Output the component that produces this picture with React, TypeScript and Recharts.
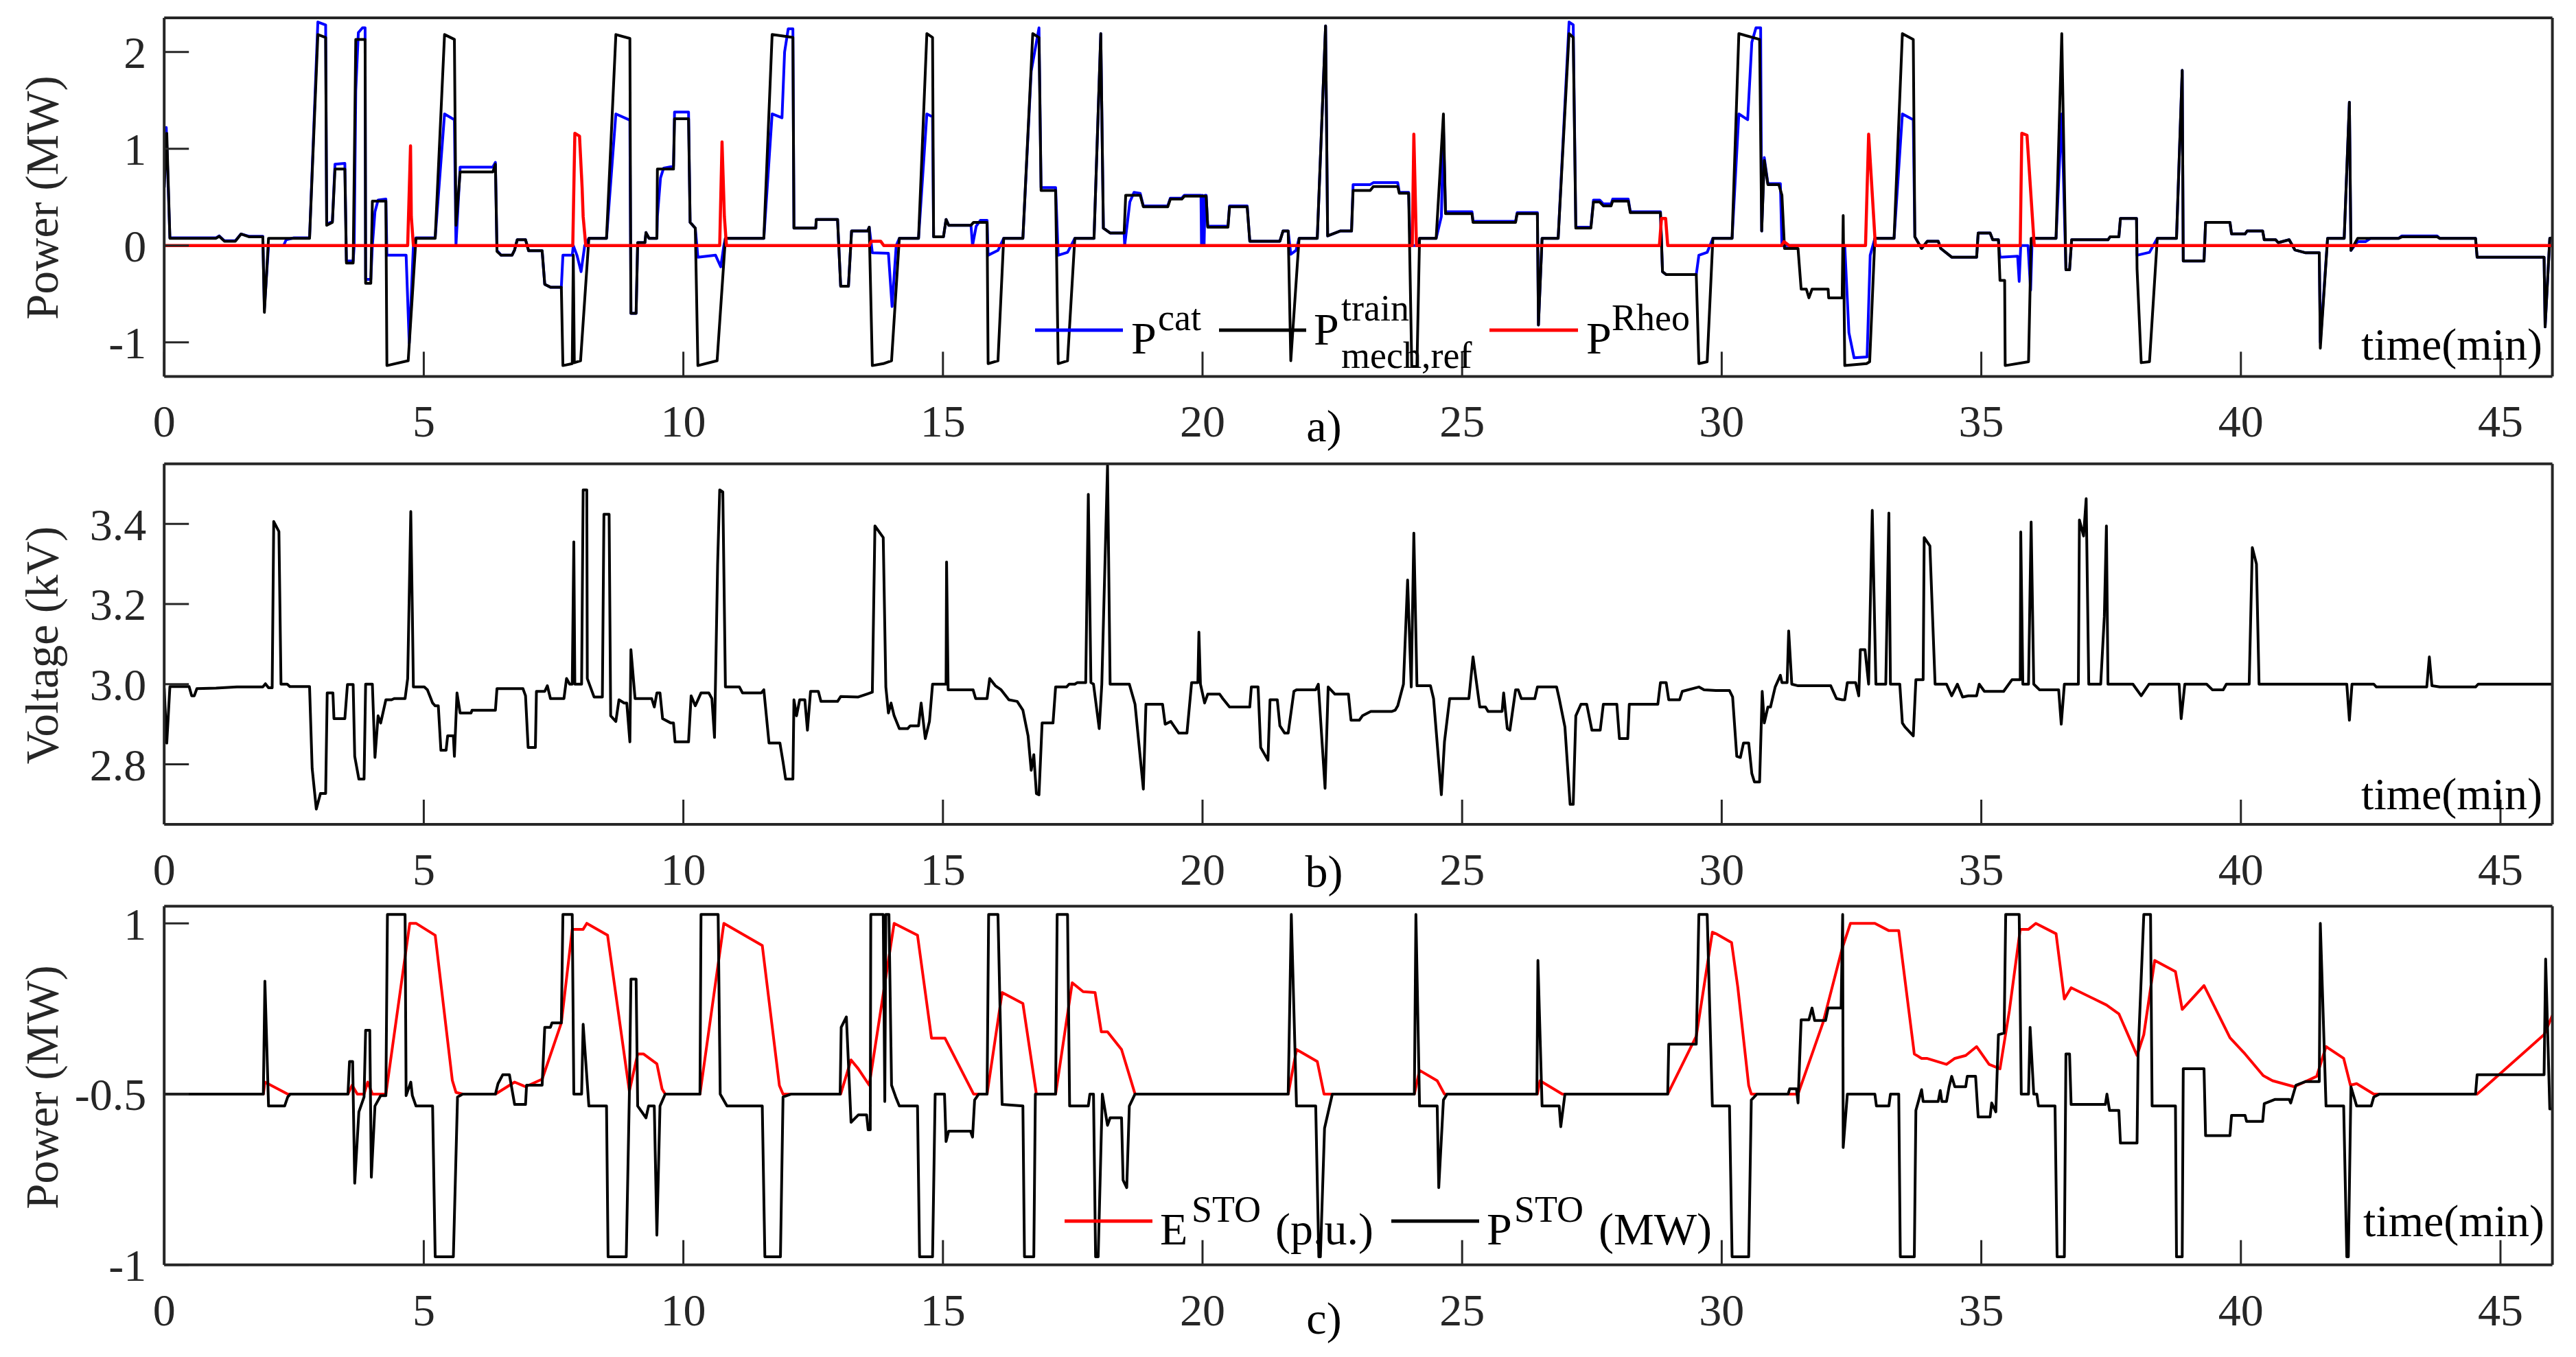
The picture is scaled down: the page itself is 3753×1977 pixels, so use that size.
import React from 'react';
import { LineChart, Line, XAxis, YAxis } from 'recharts';

const W = 3753;
const H = 1977;
const FONT = '"Liberation Serif", "Times New Roman", Times, serif';
const AX = '#262626';
const PLOT_L = 239.2;
const PLOT_R = 3718.6;

// ---------- axis ticks ----------
const timeTicks = [0, 5, 10, 15, 20, 25, 30, 35, 40, 45];
const timeTickLabels = ['0', '5', '10', '15', '20', '25', '30', '35', '40', '45'];
const aTicks = [-1, 0, 1, 2];
const aTickLabels = ['-1', '0', '1', '2'];
const bTicks = [2.8, 3.0, 3.2, 3.4];
const bTickLabels = ['2.8', '3.0', '3.2', '3.4'];
const cTicks = [-1, 0, 1];
const cTickLabels = ['-1', '-0.5', '1'];

// ---------- panel a) : P^train_mech,ref (black) [time(min), MW] ----------
const trainPts = [
  [0,0.6],[0.05,1.16],[0.11,0.075],[1.0,0.075],[1.06,0.096],[1.16,0.045],[1.37,0.045],[1.48,0.119],[1.64,0.09],[1.9,0.09],[1.93,-0.69],[2.01,0.075],[2.8,0.075],[2.96,2.18],[3.11,2.15],[3.13,0.21],[3.24,0.24],[3.29,0.79],[3.48,0.79],[3.51,-0.18],[3.64,-0.18],[3.69,2.13],[3.87,2.13],[3.88,-0.39],[3.98,-0.39],[4.01,0.46],[4.27,0.46],[4.29,-1.24],[4.7,-1.19],[4.85,0.075],[5.22,0.075],[5.4,2.18],[5.59,2.13],[5.62,0.21],[5.7,0.76],[6.33,0.76],[6.38,0.84],[6.41,-0.06],[6.49,-0.1],[6.7,-0.1],[6.75,-0.045],[6.8,0.06],[6.96,0.06],[7.02,-0.054],[7.28,-0.054],[7.33,-0.4],[7.44,-0.43],[7.65,-0.43],[7.68,-1.24],[7.86,-1.22],[7.88,-0.1],[7.9,-1.21],[8.02,-1.19],[8.18,0.075],[8.52,0.075],[8.7,2.18],[8.97,2.14],[8.99,-0.7],[9.09,-0.7],[9.12,0.03],[9.26,0.03],[9.28,0.134],[9.34,0.075],[9.49,0.075],[9.5,0.79],[9.81,0.79],[9.83,1.31],[10.1,1.31],[10.13,0.24],[10.23,0.18],[10.28,-1.24],[10.65,-1.19],[10.81,0.075],[11.55,0.075],[11.71,2.18],[12.11,2.15],[12.13,0.18],[12.55,0.18],[12.56,0.27],[12.97,0.27],[13.03,-0.42],[13.18,-0.42],[13.24,0.15],[13.55,0.15],[13.58,0.19],[13.64,-1.24],[13.85,-1.22],[14.01,-1.19],[14.16,0.075],[14.53,0.075],[14.69,2.19],[14.8,2.15],[14.82,0.09],[15.01,0.09],[15.06,0.27],[15.11,0.21],[15.54,0.21],[15.59,0.24],[15.85,0.24],[15.87,-1.22],[16.06,-1.19],[16.17,0.075],[16.54,0.075],[16.73,2.19],[16.85,2.15],[16.89,0.57],[17.17,0.57],[17.22,-1.22],[17.4,-1.19],[17.54,0.075],[17.91,0.075],[18.04,2.19],[18.09,0.18],[18.22,0.13],[18.49,0.13],[18.52,0.52],[18.8,0.52],[18.86,0.4],[19.33,0.4],[19.38,0.48],[19.6,0.48],[19.65,0.51],[20.07,0.51],[20.1,0.19],[20.49,0.19],[20.52,0.4],[20.86,0.4],[20.91,0.045],[21.49,0.045],[21.55,0.15],[21.65,0.15],[21.7,-1.19],[21.86,0.075],[22.21,0.075],[22.37,2.27],[22.41,0.1],[22.65,0.15],[22.87,0.15],[22.9,0.57],[23.23,0.57],[23.29,0.61],[23.76,0.61],[23.79,0.54],[23.97,0.54],[24.03,-1.25],[24.13,-1.25],[24.18,0.075],[24.5,0.075],[24.64,1.36],[24.68,0.33],[25.19,0.33],[25.21,0.24],[26.03,0.24],[26.06,0.33],[26.45,0.33],[26.47,-0.82],[26.54,0.075],[26.85,0.075],[27.06,2.19],[27.14,2.15],[27.19,0.18],[27.48,0.18],[27.53,0.45],[27.65,0.45],[27.72,0.41],[27.87,0.41],[27.9,0.46],[28.2,0.46],[28.24,0.34],[28.82,0.34],[28.86,-0.27],[28.93,-0.3],[29.51,-0.3],[29.56,-1.22],[29.72,-1.2],[29.83,0.075],[30.2,0.075],[30.33,2.19],[30.73,2.13],[30.77,0.15],[30.82,0.88],[30.89,0.63],[31.1,0.63],[31.16,0.52],[31.21,-0.03],[31.47,-0.03],[31.53,-0.45],[31.63,-0.45],[31.68,-0.54],[31.74,-0.45],[32.05,-0.45],[32.06,-0.54],[32.32,-0.54],[32.34,0.31],[32.37,-1.24],[32.79,-1.22],[32.85,-1.2],[32.95,0.075],[33.32,0.075],[33.48,2.19],[33.69,2.13],[33.72,0.09],[33.85,-0.03],[33.96,0.045],[34.17,0.045],[34.22,-0.03],[34.43,-0.12],[34.91,-0.12],[34.94,0.13],[35.17,0.13],[35.22,0.06],[35.33,0.06],[35.36,-0.36],[35.45,-0.36],[35.46,-1.24],[35.91,-1.2],[35.96,0.075],[36.44,0.075],[36.55,2.19],[36.63,-0.25],[36.7,-0.25],[36.74,0.06],[37.44,0.06],[37.48,0.09],[37.65,0.09],[37.68,0.28],[37.99,0.28],[38.0,-0.24],[38.08,-1.21],[38.24,-1.2],[38.39,0.075],[38.76,0.075],[38.87,1.81],[38.89,-0.16],[39.29,-0.16],[39.32,0.24],[39.79,0.24],[39.82,0.12],[40.08,0.12],[40.12,0.15],[40.42,0.15],[40.45,0.06],[40.67,0.06],[40.72,0.03],[40.93,0.06],[41.04,-0.045],[41.25,-0.075],[41.51,-0.075],[41.53,-1.06],[41.67,0.075],[41.99,0.075],[42.09,1.48],[42.12,-0.05],[42.25,0.075],[43.04,0.075],[43.1,0.09],[43.78,0.09],[43.83,0.075],[44.52,0.075],[44.55,-0.12],[45.84,-0.12],[45.86,-0.84],[45.95,0.075],[46,0.08]
];

// ---------- panel a) : P^cat (blue) ----------
const catPts = [
  [0,0.6],[0.04,1.22],[0.11,0.08],[1.0,0.08],[1.06,0.1],[1.16,0.05],[1.37,0.05],[1.48,0.12],[1.64,0.095],[1.9,0.095],[1.93,-0.65],[2.01,0.0],[2.3,0.0],[2.35,0.06],[2.5,0.08],[2.8,0.08],[2.96,2.31],[3.11,2.28],[3.13,0.22],[3.24,0.25],[3.29,0.84],[3.48,0.85],[3.51,-0.16],[3.64,-0.16],[3.66,0.0],[3.69,1.6],[3.74,2.2],[3.82,2.25],[3.87,2.25],[3.88,-0.35],[3.98,-0.35],[4.01,0.0],[4.06,0.35],[4.12,0.47],[4.27,0.48],[4.29,-0.1],[4.66,-0.1],[4.72,-1.01],[4.8,0.0],[4.85,0.08],[5.22,0.08],[5.4,1.36],[5.59,1.3],[5.62,0.0],[5.7,0.81],[6.33,0.81],[6.38,0.86],[6.41,-0.05],[6.49,-0.1],[6.7,-0.1],[6.75,-0.045],[6.8,0.06],[6.96,0.06],[7.02,-0.054],[7.28,-0.054],[7.33,-0.4],[7.44,-0.43],[7.65,-0.43],[7.68,-0.1],[7.86,-0.1],[7.88,0.0],[7.95,-0.1],[8.03,-0.27],[8.1,0.0],[8.18,0.075],[8.52,0.075],[8.7,1.36],[8.95,1.3],[8.97,1.3],[8.99,-0.7],[9.09,-0.7],[9.12,0.03],[9.26,0.03],[9.28,0.134],[9.34,0.075],[9.49,0.075],[9.5,0.3],[9.56,0.7],[9.62,0.8],[9.81,0.82],[9.83,1.38],[10.1,1.38],[10.13,0.24],[10.23,0.18],[10.28,-0.12],[10.62,-0.1],[10.72,-0.22],[10.78,0.0],[10.81,0.075],[11.55,0.075],[11.71,1.36],[11.9,1.32],[11.95,2.0],[12.02,2.24],[12.11,2.24],[12.13,0.18],[12.55,0.18],[12.56,0.27],[12.97,0.27],[13.03,-0.42],[13.18,-0.42],[13.24,0.15],[13.55,0.15],[13.58,0.19],[13.64,-0.075],[13.95,-0.08],[14.02,-0.63],[14.1,0.0],[14.16,0.075],[14.53,0.075],[14.69,1.36],[14.8,1.33],[14.82,0.09],[15.01,0.09],[15.06,0.27],[15.11,0.21],[15.54,0.21],[15.57,0.0],[15.64,0.2],[15.72,0.26],[15.85,0.26],[15.87,-0.1],[16.06,-0.05],[16.17,0.075],[16.54,0.075],[16.7,1.8],[16.85,2.25],[16.89,0.6],[17.17,0.6],[17.22,-0.1],[17.4,-0.07],[17.54,0.075],[17.91,0.075],[18.04,2.19],[18.09,0.18],[18.22,0.13],[18.49,0.13],[18.5,0.0],[18.6,0.45],[18.68,0.55],[18.8,0.54],[18.86,0.41],[19.33,0.41],[19.38,0.49],[19.6,0.49],[19.65,0.52],[19.97,0.52],[19.98,0.0],[20.0,0.52],[20.03,0.0],[20.05,0.52],[20.07,0.52],[20.1,0.2],[20.49,0.2],[20.52,0.41],[20.86,0.41],[20.91,0.045],[21.49,0.045],[21.55,0.15],[21.65,0.15],[21.7,-0.09],[21.8,-0.05],[21.86,0.075],[22.21,0.075],[22.37,2.27],[22.41,0.1],[22.65,0.15],[22.87,0.15],[22.9,0.63],[23.23,0.63],[23.29,0.65],[23.76,0.65],[23.79,0.55],[23.97,0.55],[24.0,0.0],[24.15,0.0],[24.18,0.075],[24.5,0.075],[24.6,0.3],[24.64,1.2],[24.68,0.35],[25.19,0.35],[25.21,0.25],[26.03,0.25],[26.06,0.34],[26.45,0.34],[26.47,-0.82],[26.54,0.075],[26.85,0.075],[27.06,2.31],[27.14,2.28],[27.19,0.19],[27.48,0.19],[27.53,0.47],[27.65,0.47],[27.72,0.43],[27.87,0.43],[27.9,0.48],[28.2,0.48],[28.24,0.35],[28.82,0.35],[28.86,-0.27],[28.93,-0.3],[29.51,-0.3],[29.56,-0.1],[29.72,-0.07],[29.83,0.075],[30.2,0.075],[30.33,1.36],[30.5,1.3],[30.58,2.1],[30.66,2.25],[30.75,2.25],[30.77,0.15],[30.82,0.91],[30.89,0.64],[31.13,0.64],[31.16,0.0],[32.37,0.0],[32.45,-0.9],[32.55,-1.16],[32.8,-1.15],[32.86,-0.1],[32.95,0.075],[33.32,0.075],[33.48,1.36],[33.69,1.3],[33.72,0.09],[33.85,-0.03],[33.96,0.045],[34.17,0.045],[34.22,-0.03],[34.43,-0.12],[34.91,-0.12],[34.94,0.13],[35.17,0.13],[35.22,0.06],[35.33,0.06],[35.36,-0.12],[35.7,-0.11],[35.73,-0.37],[35.76,0.0],[35.9,0.0],[35.95,-0.46],[35.98,0.075],[36.44,0.075],[36.55,1.36],[36.63,-0.25],[36.7,-0.25],[36.74,0.06],[37.44,0.06],[37.48,0.09],[37.65,0.09],[37.68,0.28],[37.99,0.28],[38.0,-0.1],[38.24,-0.07],[38.39,0.075],[38.76,0.075],[38.87,1.81],[38.89,-0.16],[39.29,-0.16],[39.32,0.24],[39.79,0.24],[39.82,0.12],[40.08,0.12],[40.12,0.15],[40.42,0.15],[40.45,0.06],[40.67,0.06],[40.72,0.03],[40.93,0.06],[41.04,-0.045],[41.25,-0.075],[41.51,-0.075],[41.53,-1.0],[41.67,0.075],[41.99,0.075],[42.09,1.48],[42.12,-0.05],[42.25,0.04],[42.4,0.04],[42.5,0.075],[43.04,0.075],[43.1,0.1],[43.78,0.1],[43.83,0.075],[44.52,0.075],[44.55,-0.12],[45.84,-0.12],[45.86,-0.84],[45.95,0.075],[46,0.08]
];

// ---------- panel a) : P^Rheo (red) ----------
const rheoPts = [
  [0,0],[4.69,0],[4.745,1.03],[4.76,0.3],[4.8,0],[7.87,0],[7.91,1.16],[8.0,1.13],[8.05,0.6],[8.07,0.3],[8.12,0],[10.7,0],[10.745,1.07],[10.79,0.3],[10.83,0],[13.58,0],[13.62,0.045],[13.8,0.045],[13.86,0],[24.04,0],[24.07,1.15],[24.12,0],[28.8,0],[28.84,0.28],[28.92,0.28],[28.96,0],[31.15,0],[31.2,0.04],[31.3,0],[32.77,0],[32.83,1.15],[32.96,0],[35.75,0],[35.78,1.16],[35.88,1.14],[36.02,0],[46,0]
];

// ---------- panel b) : catenary voltage (kV) ----------
const voltPts = [
  [0,2.99],[0.05,2.853],[0.11,2.994],[0.48,2.994],[0.53,2.971],[0.58,2.971],[0.63,2.989],[1.0,2.99],[1.4,2.993],[1.9,2.993],[1.95,3.001],[2.01,2.991],[2.08,2.991],[2.11,3.406],[2.21,3.381],[2.25,3.0],[2.37,3.0],[2.42,2.994],[2.8,2.994],[2.85,2.79],[2.93,2.688],[3.01,2.727],[3.11,2.727],[3.14,2.978],[3.25,2.978],[3.27,2.914],[3.48,2.914],[3.53,2.999],[3.64,2.999],[3.67,2.82],[3.75,2.763],[3.85,2.763],[3.88,3.0],[4.01,3.0],[4.06,2.817],[4.12,2.921],[4.17,2.903],[4.27,2.961],[4.38,2.961],[4.43,2.964],[4.64,2.964],[4.69,3.014],[4.75,3.431],[4.78,3.18],[4.8,2.993],[5.01,2.993],[5.07,2.986],[5.17,2.953],[5.22,2.946],[5.28,2.946],[5.33,2.835],[5.43,2.835],[5.46,2.871],[5.57,2.871],[5.59,2.82],[5.64,2.978],[5.7,2.928],[5.91,2.928],[5.93,2.935],[6.38,2.935],[6.41,2.989],[6.91,2.989],[6.96,2.971],[7.01,2.842],[7.15,2.842],[7.17,2.982],[7.33,2.982],[7.38,2.996],[7.44,2.964],[7.7,2.964],[7.75,3.014],[7.81,3.0],[7.86,3.0],[7.89,3.355],[7.91,3.0],[8.04,3.0],[8.07,3.485],[8.14,3.485],[8.15,3.014],[8.28,2.968],[8.44,2.968],[8.47,3.424],[8.57,3.424],[8.6,2.921],[8.7,2.907],[8.76,2.961],[8.86,2.953],[8.91,2.953],[8.97,2.856],[8.99,3.086],[9.07,2.964],[9.39,2.964],[9.44,2.943],[9.49,2.978],[9.55,2.978],[9.6,2.914],[9.76,2.903],[9.81,2.903],[9.84,2.856],[10.1,2.856],[10.15,2.971],[10.23,2.946],[10.34,2.978],[10.49,2.978],[10.55,2.964],[10.6,2.867],[10.66,3.3],[10.7,3.485],[10.76,3.48],[10.81,2.993],[11.08,2.993],[11.14,2.978],[11.5,2.978],[11.55,2.986],[11.65,2.853],[11.86,2.853],[11.92,2.806],[11.97,2.763],[12.11,2.763],[12.13,2.961],[12.18,2.921],[12.24,2.961],[12.34,2.961],[12.39,2.885],[12.45,2.982],[12.6,2.982],[12.65,2.957],[12.97,2.957],[13.03,2.969],[13.37,2.968],[13.53,2.975],[13.64,2.98],[13.69,3.395],[13.85,3.366],[13.9,2.993],[13.95,2.928],[14.0,2.953],[14.06,2.921],[14.16,2.889],[14.32,2.889],[14.37,2.896],[14.53,2.896],[14.58,2.953],[14.66,2.864],[14.74,2.907],[14.8,3.0],[15.06,3.0],[15.07,3.305],[15.1,2.986],[15.58,2.986],[15.63,2.964],[15.85,2.964],[15.9,3.014],[16.01,2.996],[16.12,2.986],[16.27,2.961],[16.43,2.957],[16.54,2.935],[16.64,2.871],[16.7,2.785],[16.75,2.824],[16.8,2.727],[16.85,2.724],[16.91,2.903],[17.12,2.903],[17.17,2.993],[17.38,2.993],[17.43,3.0],[17.54,3.0],[17.59,3.004],[17.75,3.004],[17.8,3.474],[17.85,3.004],[17.9,3.0],[18.01,2.889],[18.06,3.0],[18.17,3.546],[18.22,3.0],[18.59,3.0],[18.7,2.95],[18.86,2.738],[18.91,2.95],[19.23,2.95],[19.28,2.9],[19.39,2.907],[19.54,2.878],[19.7,2.878],[19.79,3.004],[19.91,3.004],[19.93,3.13],[19.96,3.0],[20.04,2.953],[20.1,2.975],[20.33,2.975],[20.39,2.964],[20.52,2.943],[20.91,2.943],[20.94,2.993],[21.07,2.993],[21.12,2.842],[21.26,2.81],[21.3,2.961],[21.44,2.961],[21.49,2.896],[21.58,2.878],[21.65,2.878],[21.76,2.982],[21.81,2.986],[22.18,2.986],[22.23,3.0],[22.36,2.74],[22.42,2.993],[22.55,2.975],[22.81,2.975],[22.86,2.91],[23.02,2.91],[23.08,2.921],[23.24,2.932],[23.65,2.932],[23.71,2.935],[23.76,2.946],[23.87,3.0],[23.95,3.26],[24.02,2.993],[24.07,3.377],[24.13,2.996],[24.39,2.996],[24.45,2.964],[24.6,2.724],[24.66,2.856],[24.76,2.964],[25.13,2.964],[25.21,3.068],[25.34,2.943],[25.45,2.943],[25.5,2.932],[25.77,2.932],[25.8,2.978],[25.87,2.889],[25.92,2.885],[26.03,2.986],[26.08,2.986],[26.14,2.964],[26.4,2.964],[26.45,2.993],[26.82,2.993],[26.87,2.964],[26.98,2.893],[27.08,2.7],[27.14,2.7],[27.19,2.921],[27.29,2.95],[27.4,2.95],[27.5,2.885],[27.66,2.885],[27.72,2.95],[27.98,2.95],[28.03,2.864],[28.19,2.864],[28.22,2.95],[28.77,2.95],[28.82,3.004],[28.93,3.004],[28.98,2.961],[29.19,2.961],[29.24,2.982],[29.56,2.993],[29.66,2.986],[29.89,2.984],[30.15,2.984],[30.21,2.968],[30.29,2.82],[30.36,2.817],[30.42,2.853],[30.52,2.853],[30.58,2.777],[30.63,2.756],[30.73,2.756],[30.78,2.982],[30.82,2.903],[30.89,2.943],[30.94,2.943],[31.03,2.993],[31.13,3.022],[31.16,3.004],[31.26,3.004],[31.29,3.133],[31.35,3.0],[31.47,2.996],[32.1,2.996],[32.21,2.964],[32.32,2.961],[32.37,2.961],[32.42,3.004],[32.58,3.004],[32.64,2.971],[32.67,3.086],[32.76,3.086],[32.83,3.0],[32.9,3.434],[32.97,3.0],[33.16,3.0],[33.22,3.427],[33.25,3.0],[33.43,3.0],[33.48,2.903],[33.53,2.893],[33.69,2.871],[33.74,3.011],[33.88,3.011],[33.9,3.366],[34.01,3.345],[34.11,3.0],[34.33,3.0],[34.43,2.971],[34.54,3.0],[34.64,2.968],[34.75,2.971],[34.91,2.971],[34.96,3.0],[35.06,2.982],[35.43,2.982],[35.59,3.011],[35.75,3.011],[35.76,3.38],[35.8,3.0],[35.91,3.0],[35.96,3.405],[36.01,3.0],[36.12,2.986],[36.49,2.986],[36.54,2.9],[36.6,3.0],[36.87,3.0],[36.89,3.41],[36.97,3.37],[37.02,3.463],[37.07,3.0],[37.3,3.0],[37.37,3.169],[37.41,3.395],[37.44,3.0],[37.92,3.0],[38.08,2.971],[38.23,3.0],[38.81,3.0],[38.85,2.914],[38.92,3.0],[39.34,3.0],[39.45,2.986],[39.66,2.986],[39.72,3.0],[40.16,3.0],[40.22,3.341],[40.3,3.3],[40.35,3.0],[42.04,3.0],[42.09,2.91],[42.14,3.0],[42.56,3.0],[42.61,2.993],[43.58,2.993],[43.63,3.068],[43.68,2.996],[43.83,2.993],[44.52,2.993],[44.57,3.0],[46,3.0]
];

// ---------- panel c) : E^STO (p.u., red) ----------
const estoPts = [
  [0,0],[1.91,0],[1.94,0.07],[2.38,0],[3.54,0],[3.62,0.052],[3.72,0],[3.85,0],[3.92,0.07],[4.01,0],[4.27,0],[4.73,1.0],[4.85,1.0],[5.22,0.93],[5.55,0.08],[5.62,0.01],[5.75,0],[6.38,0],[6.75,0.07],[6.96,0.043],[7.28,0.087],[7.65,0.417],[7.86,0.965],[8.07,0.965],[8.14,1.0],[8.54,0.93],[8.96,0.017],[9.12,0.235],[9.23,0.235],[9.49,0.177],[9.59,0.03],[9.65,0],[10.32,0],[10.78,1.0],[11.52,0.87],[11.85,0.05],[11.92,0],[13.03,0],[13.23,0.2],[13.37,0.148],[13.58,0.052],[14.06,1.0],[14.51,0.93],[14.78,0.327],[15.04,0.327],[15.59,0],[15.85,0],[16.14,0.595],[16.54,0.53],[16.8,0],[17.17,0],[17.49,0.652],[17.7,0.6],[17.93,0.595],[18.05,0.365],[18.17,0.365],[18.44,0.261],[18.7,0],[21.65,0],[21.81,0.261],[22.21,0.191],[22.34,0],[24.08,0],[24.18,0.139],[24.52,0.078],[24.66,0],[26.45,0],[26.5,0.078],[26.93,0],[28.96,0],[29.51,0.339],[29.82,0.948],[29.89,0.939],[30.19,0.887],[30.31,0.626],[30.52,0.05],[30.57,0],[31.47,0],[31.95,0.417],[32.32,0.852],[32.48,1.0],[32.95,1.0],[33.22,0.957],[33.41,0.957],[33.71,0.235],[33.85,0.209],[33.95,0.209],[34.33,0.174],[34.49,0.209],[34.7,0.226],[34.91,0.278],[35.15,0.174],[35.36,0.148],[35.54,0.487],[35.75,0.965],[35.91,0.965],[36.05,1.0],[36.44,0.939],[36.6,0.557],[36.73,0.623],[37.41,0.522],[37.65,0.47],[38.0,0.226],[38.13,0.348],[38.34,0.783],[38.74,0.717],[38.87,0.496],[39.29,0.635],[39.79,0.33],[40.08,0.235],[40.43,0.108],[40.61,0.078],[41.03,0.043],[41.46,0.104],[41.64,0.278],[41.98,0.209],[42.11,0.052],[42.23,0.061],[42.56,0],[44.55,0],[45.84,0.348],[46,0.461]
];

// ---------- panel c) : P^STO (MW, black) ----------
const pstoPts = [
  [0,0],[1.91,0],[1.94,0.661],[2.01,-0.07],[2.32,-0.07],[2.38,-0.017],[2.43,0],[3.54,0],[3.57,0.191],[3.63,0.191],[3.67,-0.522],[3.75,-0.104],[3.85,-0.017],[3.88,0.374],[3.96,0.374],[3.99,-0.487],[4.06,-0.07],[4.17,-0.009],[4.27,-0.009],[4.3,1.052],[4.64,1.052],[4.66,-0.009],[4.75,0.07],[4.78,-0.009],[4.85,-0.07],[5.17,-0.07],[5.22,-0.953],[5.57,-0.953],[5.65,-0.017],[5.75,0],[6.38,0],[6.43,0.061],[6.52,0.113],[6.65,0.113],[6.75,-0.061],[6.96,-0.061],[6.98,0.052],[7.28,0.052],[7.33,0.391],[7.44,0.391],[7.47,0.417],[7.65,0.417],[7.68,1.052],[7.86,1.052],[7.89,0],[8.04,0],[8.07,0.409],[8.18,-0.07],[8.52,-0.07],[8.55,-0.953],[8.9,-0.953],[8.96,0],[8.99,0.673],[9.09,0.673],[9.12,-0.07],[9.28,-0.139],[9.33,-0.07],[9.44,-0.07],[9.49,-0.826],[9.55,-0.07],[9.65,0],[10.32,0],[10.34,1.052],[10.67,1.052],[10.71,0],[10.84,-0.07],[11.52,-0.07],[11.57,-0.953],[11.87,-0.953],[11.92,-0.017],[12.08,0],[13.02,0],[13.04,0.391],[13.14,0.452],[13.23,-0.165],[13.37,-0.122],[13.53,-0.122],[13.56,-0.209],[13.6,-0.209],[13.61,1.052],[13.85,1.052],[13.88,-0.043],[13.9,1.052],[13.96,1.052],[14.01,0.052],[14.09,-0.017],[14.16,-0.07],[14.51,-0.07],[14.55,-0.953],[14.8,-0.953],[14.85,0],[15.03,0],[15.06,-0.278],[15.11,-0.217],[15.53,-0.217],[15.57,-0.252],[15.61,-0.035],[15.69,0],[15.85,0],[15.88,1.052],[16.06,1.052],[16.14,-0.061],[16.54,-0.07],[16.57,-0.953],[16.75,-0.953],[16.78,0],[17.17,0],[17.2,1.052],[17.4,1.052],[17.44,-0.07],[17.8,-0.07],[17.83,0],[17.9,0],[17.94,-0.953],[17.99,-0.953],[18.07,0],[18.17,-0.183],[18.22,-0.139],[18.44,-0.139],[18.47,-0.504],[18.54,-0.548],[18.59,-0.07],[18.7,0],[21.65,0],[21.71,1.052],[21.81,-0.07],[22.18,-0.07],[22.24,-0.953],[22.27,-0.953],[22.35,-0.2],[22.5,0],[24.08,0],[24.11,1.052],[24.18,-0.07],[24.52,-0.07],[24.55,-0.548],[24.64,-0.035],[24.71,0],[26.44,0],[26.46,0.783],[26.54,-0.07],[26.87,-0.07],[26.9,-0.191],[26.98,0],[28.96,0],[28.98,0.292],[29.51,0.292],[29.56,1.052],[29.72,1.052],[29.82,-0.07],[30.15,-0.07],[30.2,-0.953],[30.52,-0.953],[30.57,-0.035],[30.68,0],[31.28,0],[31.31,0.031],[31.44,0.031],[31.47,-0.052],[31.53,0.435],[31.68,0.435],[31.74,0.504],[31.79,0.431],[32.0,0.431],[32.05,0.504],[32.3,0.504],[32.33,1.052],[32.34,-0.313],[32.42,0],[32.95,0],[32.98,-0.07],[33.22,-0.07],[33.25,0],[33.41,0],[33.44,-0.953],[33.71,-0.953],[33.74,-0.096],[33.85,0.026],[33.88,-0.043],[34.17,-0.043],[34.21,0.021],[34.24,-0.043],[34.33,-0.043],[34.38,0.043],[34.43,0.104],[34.49,0.043],[34.7,0.043],[34.73,0.104],[34.89,0.104],[34.94,-0.134],[35.17,-0.134],[35.2,-0.052],[35.28,-0.104],[35.33,0.348],[35.44,0.357],[35.47,1.052],[35.73,1.052],[35.77,0],[35.91,0],[35.94,0.391],[36.01,0],[36.07,0],[36.1,-0.07],[36.42,-0.07],[36.46,-0.953],[36.6,-0.953],[36.63,0.235],[36.7,0.235],[36.73,-0.061],[37.39,-0.061],[37.42,0],[37.47,-0.096],[37.65,-0.096],[37.68,-0.287],[38.0,-0.287],[38.02,0.226],[38.13,1.052],[38.26,1.052],[38.29,-0.07],[38.74,-0.07],[38.76,-0.953],[38.87,-0.953],[38.89,0.148],[39.29,0.148],[39.32,-0.243],[39.79,-0.243],[39.82,-0.125],[40.08,-0.125],[40.11,-0.16],[40.42,-0.16],[40.45,-0.056],[40.66,-0.031],[40.93,-0.031],[40.96,-0.052],[41.06,0.052],[41.24,0.073],[41.51,0.073],[41.53,1.0],[41.64,-0.07],[41.98,-0.07],[42.04,-0.953],[42.07,-0.953],[42.12,0.043],[42.23,-0.07],[42.51,-0.07],[42.56,-0.017],[42.67,0],[44.52,0],[44.55,0.113],[45.84,0.113],[45.87,0.791],[45.95,-0.087],[46,-0.087]
];

const toData = (pts: number[][]) => pts.map(([t, v]) => ({ t, v }));

type Series = { name: string; data: { t: number; v: number }[]; color: string; width: number };

type PanelProps = {
  top: number;
  bottom: number;
  domain: [number, number];
  ticks: number[];
  labels: string[];
  series: Series[];
};

const tickStyle = { fontSize: 66, fontFamily: FONT, fill: AX };
const axisLineStyle = { stroke: AX, strokeWidth: 4 };
const tickLineStyle = { stroke: AX, strokeWidth: 3 };

// axes need a non-zero thickness to be drawn; 1px is taken from the margins
const AXT = 1;

function Panel({ top, bottom, domain, ticks, labels, series }: PanelProps) {
  return (
    <div style={{ position: 'absolute', left: 0, top: 0, width: W, height: H }}>
      <LineChart
        width={W}
        height={H}
        margin={{
          top: top - AXT,
          bottom: H - bottom - AXT,
          left: PLOT_L - AXT,
          right: W - PLOT_R - AXT,
        }}
      >
        <XAxis
          xAxisId="b"
          type="number"
          dataKey="t"
          domain={[0, 46]}
          ticks={timeTicks}
          interval={0}
          allowDataOverflow
          orientation="bottom"
          height={AXT}
          tickSize={-36}
          tickMargin={77}
          axisLine={axisLineStyle}
          tickLine={tickLineStyle}
          tick={tickStyle}
          tickFormatter={(v: number, i: number) => timeTickLabels[i] ?? String(v)}
        />
        <XAxis
          xAxisId="t"
          type="number"
          dataKey="t"
          domain={[0, 46]}
          ticks={timeTicks}
          interval={0}
          allowDataOverflow
          orientation="top"
          height={AXT}
          tickSize={-36}
          axisLine={axisLineStyle}
          tickLine={tickLineStyle}
          tick={false}
        />
        <YAxis
          yAxisId="l"
          type="number"
          domain={domain}
          ticks={ticks}
          interval={0}
          allowDataOverflow
          orientation="left"
          width={AXT}
          tickSize={-36}
          tickMargin={62}
          axisLine={axisLineStyle}
          tickLine={tickLineStyle}
          tick={tickStyle}
          tickFormatter={(v: number, i: number) => labels[i] ?? String(v)}
        />
        <YAxis
          yAxisId="r"
          type="number"
          domain={domain}
          ticks={ticks}
          interval={0}
          allowDataOverflow
          orientation="right"
          width={AXT}
          tickSize={-36}
          axisLine={axisLineStyle}
          tickLine={tickLineStyle}
          tick={false}
        />
        {series.map((s) => (
          <Line
            key={s.name}
            name={s.name}
            xAxisId="b"
            yAxisId="l"
            data={s.data}
            dataKey="v"
            type="linear"
            stroke={s.color}
            strokeWidth={s.width}
            strokeLinejoin="round"
            dot={false}
            activeDot={false}
            isAnimationActive={false}
          />
        ))}
      </LineChart>
    </div>
  );
}

function Overlay() {
  const txt = { fontFamily: FONT, fill: '#000' } as const;
  const lab = { fontFamily: FONT, fill: AX } as const;
  return (
    <svg
      width={W}
      height={H}
      style={{ position: 'absolute', left: 0, top: 0, pointerEvents: 'none' }}
    >
      {/* y labels */}
      <text {...lab} fontSize={67} textAnchor="middle" transform="translate(84,288) rotate(-90)">Power (MW)</text>
      <text {...lab} fontSize={67} textAnchor="middle" transform="translate(84,940) rotate(-90)">Voltage (kV)</text>
      <text {...lab} fontSize={67} textAnchor="middle" transform="translate(84,1584) rotate(-90)">Power (MW)</text>

      {/* panel captions */}
      <text {...txt} fontSize={66} x={1929} y={643} textAnchor="middle">a)</text>
      <text {...txt} fontSize={66} x={1929} y={1292} textAnchor="middle">b)</text>
      <text {...txt} fontSize={66} x={1929} y={1943} textAnchor="middle">c)</text>

      {/* time(min) */}
      <text {...txt} fontSize={66} x={3704} y={524} textAnchor="end">time(min)</text>
      <text {...txt} fontSize={66} x={3704} y={1179} textAnchor="end">time(min)</text>
      <text {...txt} fontSize={66} x={3707} y={1801} textAnchor="end">time(min)</text>

      {/* legend a) */}
      <line x1={1508} x2={1636} y1={481} y2={481} stroke="#0000ff" strokeWidth={5} />
      <text {...txt} fontSize={66} x={1648} y={515}>P</text>
      <text {...txt} fontSize={54} x={1687} y={481}>cat</text>
      <line x1={1776} x2={1903} y1={481} y2={481} stroke="#000" strokeWidth={5} />
      <text {...txt} fontSize={66} x={1914} y={502}>P</text>
      <text {...txt} fontSize={54} x={1954} y={467}>train</text>
      <text {...txt} fontSize={54} x={1954} y={536}>mech,ref</text>
      <line x1={2170} x2={2299} y1={481} y2={481} stroke="#ff0000" strokeWidth={5} />
      <text {...txt} fontSize={66} x={2311} y={515}>P</text>
      <text {...txt} fontSize={54} x={2348} y={481}>Rheo</text>

      {/* legend c) */}
      <line x1={1551} x2={1679} y1={1779} y2={1779} stroke="#ff0000" strokeWidth={5} />
      <text {...txt} fontSize={66} x={1690} y={1813}>E</text>
      <text {...txt} fontSize={54} x={1736} y={1780}>STO</text>
      <text {...txt} fontSize={66} x={1858} y={1813}>(p.u.)</text>
      <line x1={2027} x2={2155} y1={1779} y2={1779} stroke="#000" strokeWidth={5} />
      <text {...txt} fontSize={66} x={2166} y={1813}>P</text>
      <text {...txt} fontSize={54} x={2206} y={1780}>STO</text>
      <text {...txt} fontSize={66} x={2329} y={1813}>(MW)</text>
    </svg>
  );
}

export default function App() {
  const panelA: Series[] = [
    { name: 'Pcat', data: toData(catPts), color: '#0000ff', width: 4 },
    { name: 'Ptrain', data: toData(trainPts), color: '#000000', width: 4 },
    { name: 'PRheo', data: toData(rheoPts), color: '#ff0000', width: 4.5 },
  ];
  const panelB: Series[] = [
    { name: 'V', data: toData(voltPts), color: '#000000', width: 4 },
  ];
  const panelC: Series[] = [
    { name: 'Esto', data: toData(estoPts), color: '#ff0000', width: 4 },
    { name: 'Psto', data: toData(pstoPts), color: '#000000', width: 4 },
  ];
  return (
    <div style={{ position: 'absolute', left: 0, top: 0, width: W, height: H, background: '#fff', overflow: 'hidden' }}>
      <Panel top={26.1} bottom={548.4} domain={[-1.352, 2.352]} ticks={aTicks} labels={aTickLabels} series={panelA} />
      <Panel top={675.8} bottom={1201} domain={[2.65, 3.55]} ticks={bTicks} labels={bTickLabels} series={panelB} />
      <Panel top={1320.3} bottom={1842.7} domain={[-1, 1.1]} ticks={cTicks} labels={cTickLabels} series={panelC} />
      <Overlay />
    </div>
  );
}
